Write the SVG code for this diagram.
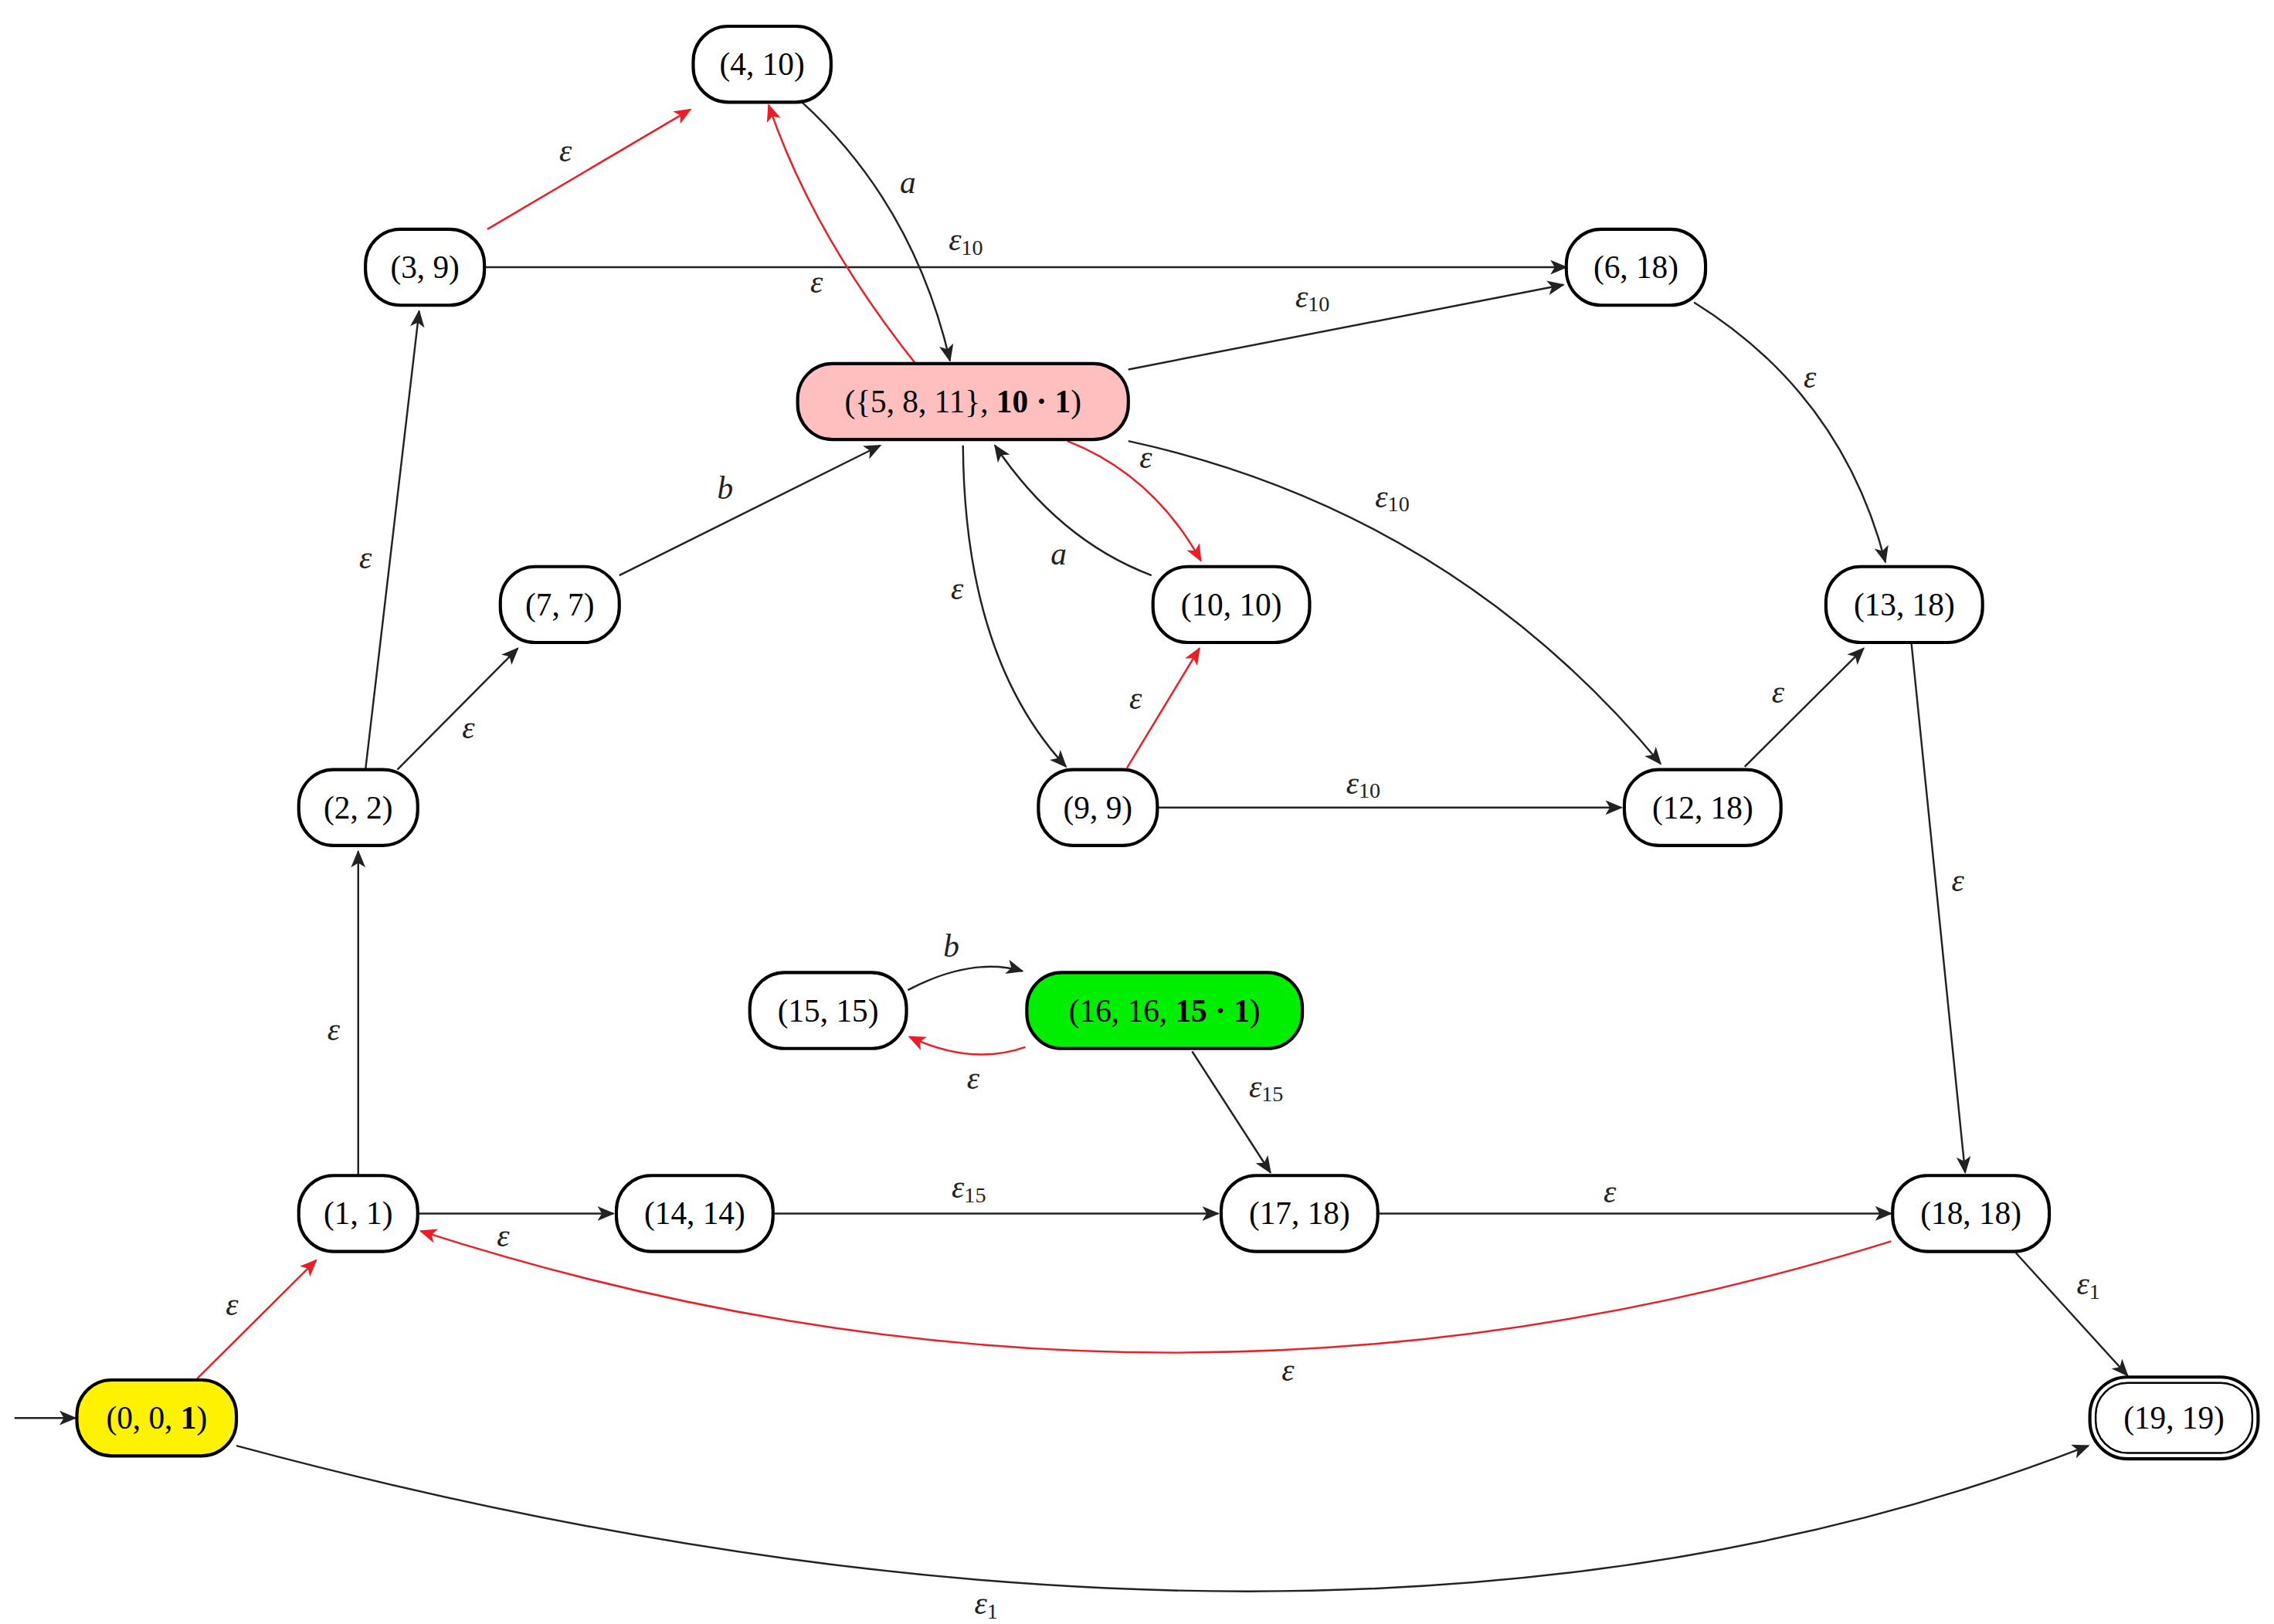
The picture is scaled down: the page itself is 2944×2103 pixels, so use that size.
<svg xmlns="http://www.w3.org/2000/svg" width="2944" height="2103" viewBox="0 0 2944 2103">
<style>
.n rect{stroke:#000;stroke-width:2.2;fill:#fff}
.n text{font-family:"Liberation Serif",serif;font-size:22px;text-anchor:middle;dominant-baseline:central}
.e path{fill:none;stroke:#222;stroke-width:1.3}
.e path.r{stroke:#ee1c24}
.l{font-family:"Liberation Serif",serif;font-size:22px;font-style:italic;text-anchor:middle;dominant-baseline:central;fill:#222}
.s{font-size:15px;font-style:normal}
</style>
<defs>
<marker id="ab" markerWidth="12" markerHeight="10" refX="11" refY="5" orient="auto" markerUnits="userSpaceOnUse"><path d="M0,0 L12,5 L0,10 L3,5 Z" fill="#222"/></marker>
<marker id="ar" markerWidth="12" markerHeight="10" refX="11" refY="5" orient="auto" markerUnits="userSpaceOnUse"><path d="M0,0 L12,5 L0,10 L3,5 Z" fill="#ee1c24"/></marker>
</defs>
<rect width="2944" height="2103" fill="#fff"/>
<g transform="scale(1.8776,1.891)">
<g class="e">
<path d="M10,971 L52,971" marker-end="url(#ab)"/>
<path class="r" d="M136,944 L218,863" marker-end="url(#ar)"/>
<path d="M163,990 C500,1080 1000,1160 1440,990" marker-end="url(#ab)"/>
<path d="M247,805 L247,583" marker-end="url(#ab)"/>
<path d="M252,527 L289,213" marker-end="url(#ab)"/>
<path d="M274,527 L357,444" marker-end="url(#ab)"/>
<path class="r" d="M336,157 L476,75" marker-end="url(#ar)"/>
<path d="M334,183 L1080,183" marker-end="url(#ab)"/>
<path d="M553,70 Q630,140 655,247" marker-end="url(#ab)"/>
<path class="r" d="M632,250 Q560,160 530,72" marker-end="url(#ar)"/>
<path d="M778,253 L1078,195" marker-end="url(#ab)"/>
<path d="M427,394 L607,305" marker-end="url(#ab)"/>
<path class="r" d="M736,302 Q795,325 828,384" marker-end="url(#ar)"/>
<path d="M794,394 Q730,370 686,305" marker-end="url(#ab)"/>
<path d="M664,305 Q665,450 735,525" marker-end="url(#ab)"/>
<path d="M778,302 Q1000,350 1145,523" marker-end="url(#ab)"/>
<path class="r" d="M777,526 L827,444" marker-end="url(#ar)"/>
<path d="M798,553 L1118,553" marker-end="url(#ab)"/>
<path d="M1168,207 Q1270,270 1300,385" marker-end="url(#ab)"/>
<path d="M1203,525 L1285,444" marker-end="url(#ab)"/>
<path d="M1318,441 L1355,803" marker-end="url(#ab)"/>
<path d="M626,678 Q670,655 705,665" marker-end="url(#ab)"/>
<path class="r" d="M707,717 Q670,730 627,710" marker-end="url(#ar)"/>
<path d="M822,720 L876,803" marker-end="url(#ab)"/>
<path d="M288,831 L423,831" marker-end="url(#ab)"/>
<path d="M534,831 L840,831" marker-end="url(#ab)"/>
<path d="M950,831 L1304,831" marker-end="url(#ab)"/>
<path class="r" d="M1304,850 Q800,1006 290,843" marker-end="url(#ar)"/>
<path d="M1390,858 L1467,942" marker-end="url(#ab)"/>
<text class="l" x="160" y="893">ε</text>
<text class="l" x="680" y="1098">ε<tspan class="s" dy="5">1</tspan></text>
<text class="l" x="230" y="705">ε</text>
<text class="l" x="252" y="382">ε</text>
<text class="l" x="323" y="498">ε</text>
<text class="l" x="390" y="103">ε</text>
<text class="l" x="666" y="164">ε<tspan class="s" dy="5">10</tspan></text>
<text class="l" x="626" y="125">a</text>
<text class="l" x="563" y="193">ε</text>
<text class="l" x="905" y="203">ε<tspan class="s" dy="5">10</tspan></text>
<text class="l" x="500" y="334">b</text>
<text class="l" x="790" y="313">ε</text>
<text class="l" x="730" y="379">a</text>
<text class="l" x="660" y="403">ε</text>
<text class="l" x="960" y="340">ε<tspan class="s" dy="5">10</tspan></text>
<text class="l" x="783" y="478">ε</text>
<text class="l" x="940" y="536">ε<tspan class="s" dy="5">10</tspan></text>
<text class="l" x="1248" y="258">ε</text>
<text class="l" x="1226" y="474">ε</text>
<text class="l" x="1350" y="603">ε</text>
<text class="l" x="656" y="648">b</text>
<text class="l" x="671" y="738">ε</text>
<text class="l" x="873" y="744">ε<tspan class="s" dy="5">15</tspan></text>
<text class="l" x="347" y="846">ε</text>
<text class="l" x="668" y="813">ε<tspan class="s" dy="5">15</tspan></text>
<text class="l" x="1110" y="816">ε</text>
<text class="l" x="888" y="938">ε</text>
<text class="l" x="1440" y="879">ε<tspan class="s" dy="5">1</tspan></text>
</g>
<g id="n4_10" class="n"><rect x="478" y="18" width="95" height="52" rx="24"/><text x="525.5" y="44">(4, 10)</text></g>
<g id="n3_9" class="n"><rect x="252" y="157" width="82" height="52" rx="24"/><text x="293" y="183">(3, 9)</text></g>
<g id="n6_18" class="n"><rect x="1080" y="157" width="96" height="52" rx="24"/><text x="1128" y="183">(6, 18)</text></g>
<g id="n5" class="n"><rect x="550" y="249" width="228" height="52" rx="24" style="fill:#ffbfbf"/><text x="664" y="275">({5, 8, 11}, <tspan font-weight="bold">10 · 1</tspan>)</text></g>
<g id="n7_7" class="n"><rect x="345" y="388" width="82" height="52" rx="24"/><text x="386" y="414">(7, 7)</text></g>
<g id="n10_10" class="n"><rect x="795" y="388" width="108" height="52" rx="24"/><text x="849" y="414">(10, 10)</text></g>
<g id="n13_18" class="n"><rect x="1259" y="388" width="108" height="52" rx="24"/><text x="1313" y="414">(13, 18)</text></g>
<g id="n2_2" class="n"><rect x="206" y="527" width="82" height="52" rx="24"/><text x="247" y="553">(2, 2)</text></g>
<g id="n9_9" class="n"><rect x="716" y="527" width="82" height="52" rx="24"/><text x="757" y="553">(9, 9)</text></g>
<g id="n12_18" class="n"><rect x="1120" y="527" width="108" height="52" rx="24"/><text x="1174" y="553">(12, 18)</text></g>
<g id="n15_15" class="n"><rect x="517" y="666" width="108" height="52" rx="24"/><text x="571" y="692">(15, 15)</text></g>
<g id="n16" class="n"><rect x="708" y="666" width="190" height="52" rx="24" style="fill:#00ee00"/><text x="803" y="692">(16, 16, <tspan font-weight="bold">15 · 1</tspan>)</text></g>
<g id="n1_1" class="n"><rect x="206" y="805" width="82" height="52" rx="24"/><text x="247" y="831">(1, 1)</text></g>
<g id="n14_14" class="n"><rect x="425" y="805" width="108" height="52" rx="24"/><text x="479" y="831">(14, 14)</text></g>
<g id="n17_18" class="n"><rect x="842" y="805" width="108" height="52" rx="24"/><text x="896" y="831">(17, 18)</text></g>
<g id="n18_18" class="n"><rect x="1305" y="805" width="108" height="52" rx="24"/><text x="1359" y="831">(18, 18)</text></g>
<g id="n0" class="n"><rect x="53" y="945" width="110" height="52" rx="24" style="fill:#fff200"/><text x="108" y="971">(0, 0, <tspan font-weight="bold">1</tspan>)</text></g>
<g id="n19_19" class="n"><rect x="1441" y="943" width="116" height="56" rx="26"/><rect x="1445" y="947" width="108" height="48" rx="22" style="stroke-width:1.3"/><text x="1499" y="971">(19, 19)</text></g>
</g>
</svg>
